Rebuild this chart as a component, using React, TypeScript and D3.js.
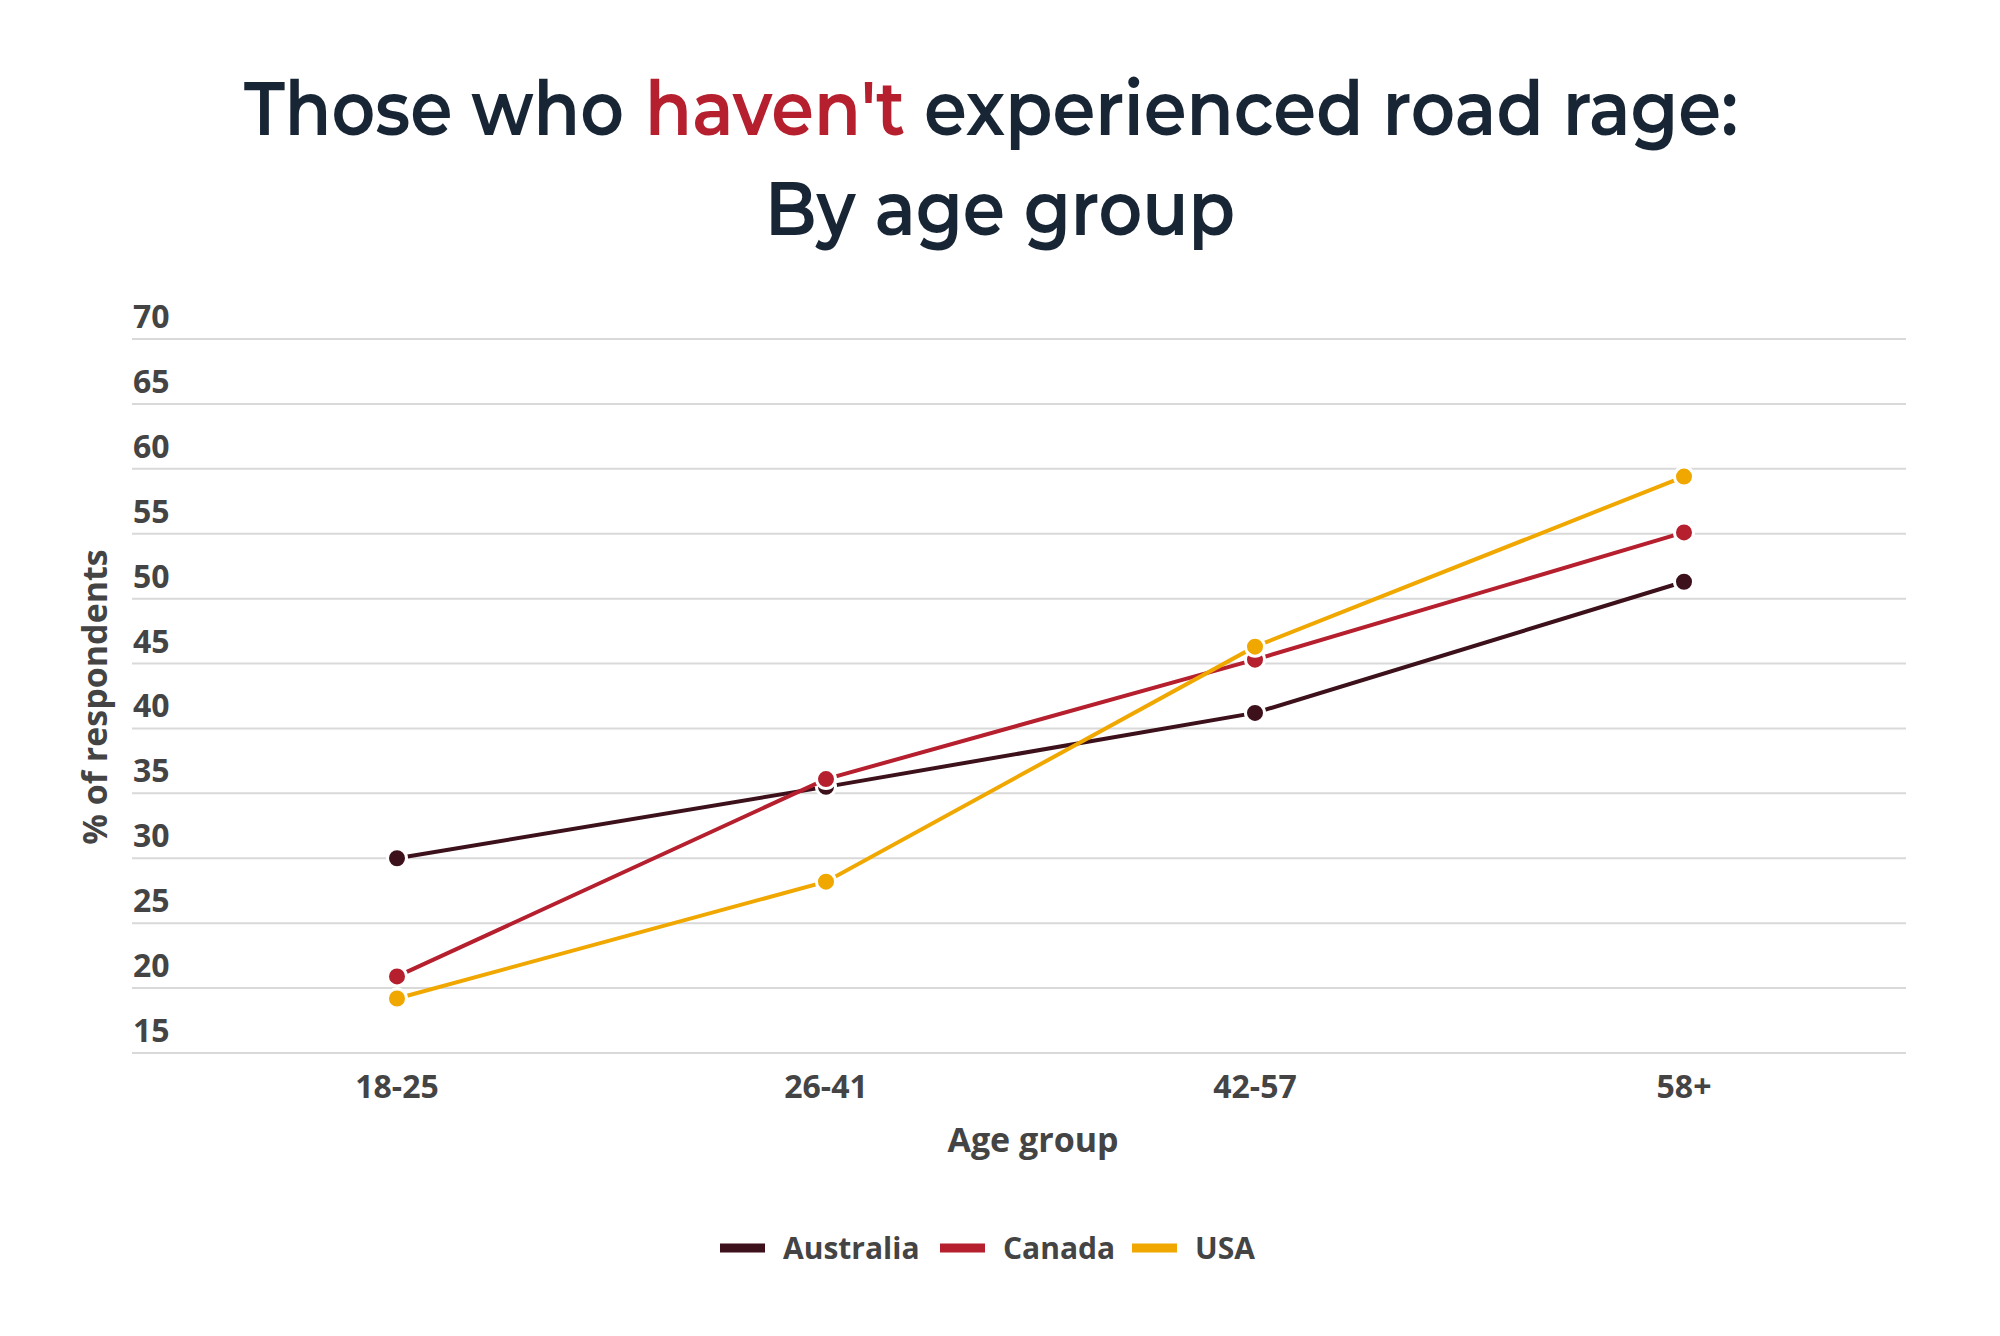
import * as d3 from 'd3';

const categories = ['18-25', '26-41', '42-57', '58+'];
const australia = [30, 35.5, 41.2, 51.3];
const canada = [20.9, 36.1, 45.3, 55.1];
const usa = [19.2, 28.2, 46.3, 59.4];
const yTicks = [15, 20, 25, 30, 35, 40, 45, 50, 55, 60, 65, 70];

const series = [
  { name: 'Australia', values: australia, color: '#3d111b' },
  { name: 'Canada', values: canada, color: '#b51f2e' },
  { name: 'USA', values: usa, color: '#f0a800' },
];

// title pieces: text, colour, left x, width
const titleParts = [
  { text: 'Those who', color: '#172535', x: 244, w: 380 },
  { text: "haven't", color: '#b51f2e', x: 645, w: 260 },
  { text: 'experienced road rage:', color: '#172535', x: 924, w: 814 },
];

const W = 2000;
const H = 1336;
const gridLeft = 132;
const gridRight = 1906;
const labelFont = "'Open Sans', 'Noto Sans', sans-serif";
const titleFont = "'Montserrat', 'Open Sans', sans-serif";
const grey = '#444444';

export default function App() {
  const x = d3.scalePoint<string>().domain(categories).range([397, 1684]);
  const y = d3.scaleLinear().domain([15, 70]).range([1053, 339]);
  const line = d3
    .line<number>()
    .x((_, i) => x(categories[i]) || 0)
    .y((d) => y(d));

  const legendX = [720, 940, 1132];

  return (
    <svg
      width={W}
      height={H}
      viewBox={`0 0 ${W} ${H}`}
      style={{ position: 'absolute', left: 0, top: 0, background: '#fff' }}
    >
      <rect width={W} height={H} fill="#fff" />
      {/* title */}
      {titleParts.map((p) => (
        <text
          key={p.text}
          x={p.x}
          y={135}
          fontFamily={titleFont}
          fontWeight={600}
          fontSize={76}
          fill={p.color}
          textLength={p.w}
          lengthAdjust="spacingAndGlyphs"
        >
          {p.text}
        </text>
      ))}
      <text
        x={765}
        y={235}
        fontFamily={titleFont}
        fontWeight={600}
        fontSize={76}
        fill="#172535"
        textLength={470}
        lengthAdjust="spacingAndGlyphs"
      >
        By age group
      </text>

      {/* grid + y labels */}
      {yTicks.map((t) => (
        <g key={t}>
          <line x1={gridLeft} x2={gridRight} y1={y(t)} y2={y(t)} stroke="#d9d9d9" strokeWidth={2} />
          <text x={133} y={y(t) - 11} fontFamily={labelFont} fontWeight={700} fontSize={32} fill={grey}>
            {t}
          </text>
        </g>
      ))}

      {/* y axis title */}
      <text
        transform={`translate(107, 697) rotate(-90)`}
        textAnchor="middle"
        fontFamily={labelFont}
        fontWeight={700}
        fontSize={34}
        fill={grey}
      >
        % of respondents
      </text>

      {/* x labels */}
      {categories.map((c) => (
        <text
          key={c}
          x={x(c)}
          y={1098}
          textAnchor="middle"
          fontFamily={labelFont}
          fontWeight={700}
          fontSize={32}
          fill={grey}
        >
          {c}
        </text>
      ))}
      <text x={1033} y={1152} textAnchor="middle" fontFamily={labelFont} fontWeight={700} fontSize={34} fill={grey}>
        Age group
      </text>

      {/* series */}
      {series.map((s) => (
        <g key={s.name}>
          <path d={line(s.values) || ''} fill="none" stroke={s.color} strokeWidth={4} />
          {s.values.map((v, i) => (
            <circle
              key={i}
              cx={x(categories[i])}
              cy={y(v)}
              r={9.5}
              fill={s.color}
              stroke="#fff"
              strokeWidth={3}
            />
          ))}
        </g>
      ))}

      {/* legend */}
      {series.map((s, i) => (
        <g key={s.name} transform={`translate(${legendX[i]}, 1248)`}>
          <line x1={0} x2={45} y1={0} y2={0} stroke={s.color} strokeWidth={9} />
          <text x={63} y={11} fontFamily={labelFont} fontWeight={700} fontSize={30} fill={grey}>
            {s.name}
          </text>
        </g>
      ))}
    </svg>
  );
}
